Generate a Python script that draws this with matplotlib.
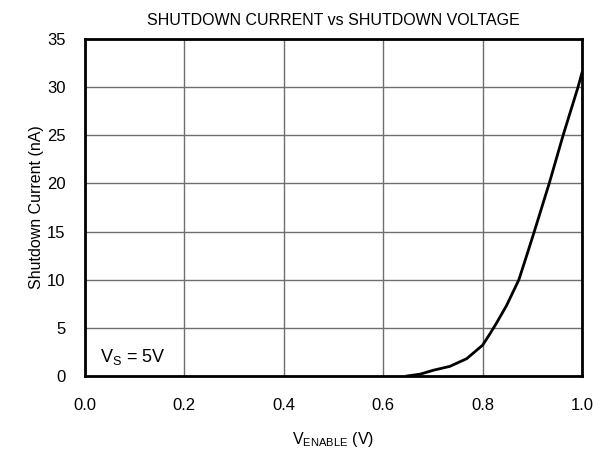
import numpy as np
import matplotlib.pyplot as plt

plt.rcParams['font.family'] = ['Liberation Sans', 'DejaVu Sans']

# values
v_enable = [0.648, 0.675, 0.701, 0.734, 0.768, 0.80, 0.815, 0.828, 0.848, 0.873,
            0.888, 0.904, 0.934, 0.962, 0.992, 1.0]
i_shdn = [0.0, 0.2, 0.6, 1.0, 1.8, 3.2, 4.4, 5.5, 7.3, 10.0,
          12.4, 15.0, 20.0, 25.0, 30.0, 31.5]

x_ticks = [0.0, 0.2, 0.4, 0.6, 0.8, 1.0]
y_ticks = [0, 5, 10, 15, 20, 25, 30, 35]

fig = plt.figure(figsize=(6.09, 4.49), dpi=100)
ax = fig.add_axes([85/609, 1 - 376/449, 497/609, 337/449])

ax.plot(v_enable, i_shdn, color='black', lw=2)
ax.set_xlim(0, 1)
ax.set_ylim(0, 35)
ax.set_xticks(x_ticks)
ax.set_xticklabels(["%.1f" % t for t in x_ticks])
ax.set_yticks(y_ticks)
ax.tick_params(length=0, labelsize=12)
ax.tick_params(axis='x', pad=16)
ax.tick_params(axis='y', pad=14)
ax.grid(True, color='#6e6e6e', lw=1)
for s in ax.spines.values():
    s.set_linewidth(2)

ax.set_title("SHUTDOWN CURRENT vs SHUTDOWN VOLTAGE", fontsize=11.5, pad=10)
ax.set_xlabel("V$_{\\mathregular{ENABLE}}$ (V)", fontsize=11.5, labelpad=12)
ax.set_ylabel("Shutdown Current (nA)", fontsize=11.5, labelpad=2)
ax.text(0.03, 1.5, "V$_{\\mathregular{S}}$ = 5V", fontsize=13)

fig.savefig("out.png", dpi=100)
